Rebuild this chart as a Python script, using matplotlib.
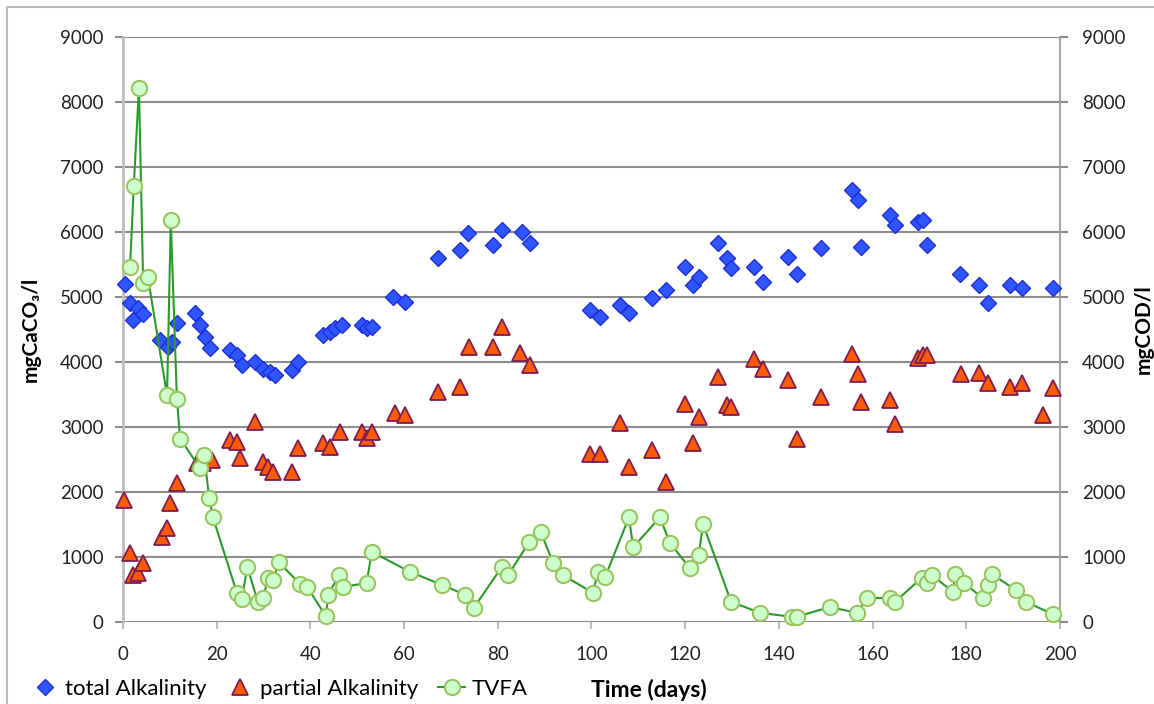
"""Alkalinity and TVFA over time."""
import matplotlib
matplotlib.use('Agg')
import matplotlib.pyplot as plt
from matplotlib.patches import Rectangle

plt.rcParams['font.family'] = ['Lato', 'DejaVu Sans']

# total alkalinity (mgCaCO3/l)
total_days = [0.4, 1.5, 2.1, 3.2, 4.3, 7.9, 9.6, 10.5, 11.5, 15.4, 16.4, 17.5, 18.6,
              22.8, 24.3, 25.4, 28.2, 29.9, 31.4, 32.4, 36, 37.4, 42.7, 44.2, 45.3,
              46.7, 51, 52, 53.1, 57.6, 60.2, 67.2, 71.9, 73.6, 79, 80.9, 85.2, 86.9,
              99.7, 101.8, 106.1, 108, 112.9, 115.9, 120, 121.7, 122.9, 127, 128.9,
              129.8, 134.7, 136.6, 141.9, 143.8, 149, 155.6, 156.9, 157.5, 163.7,
              164.8, 169.7, 170.8, 171.6, 178.7, 182.7, 184.6, 189.3, 191.9, 198.5]
total_alk = [5200, 4910, 4650, 4830, 4740, 4340, 4230, 4310, 4600, 4750, 4570, 4390, 4210,
             4180, 4110, 3950, 4000, 3900, 3850, 3800, 3880, 4000, 4420, 4460, 4520,
             4570, 4570, 4520, 4540, 5000, 4920, 5600, 5720, 5980, 5800, 6030, 6000, 5830,
             4800, 4690, 4880, 4750, 4980, 5110, 5460, 5180, 5310, 5830, 5600,
             5450, 5460, 5230, 5620, 5350, 5750, 6650, 6490, 5770, 6260,
             6110, 6150, 6180, 5800, 5350, 5180, 4910, 5180, 5140, 5140]

# partial alkalinity (mgCaCO3/l)
partial_days = [0.2, 1.5, 2.2, 3.3, 4.3, 8.3, 9.4, 10, 11.5, 15.8, 17, 19, 22.8, 24.3, 25,
                28.2, 29.9, 31, 32, 36, 37.4, 42.7, 44.2, 46.3, 51, 52, 53.1, 58, 60.2,
                67.2, 71.9, 73.8, 78.9, 80.9, 84.7, 86.9, 99.7, 101.8, 106.1, 108, 112.9,
                115.9, 120, 121.7, 122.9, 127, 128.9, 129.8, 134.7, 136.6, 141.9, 143.8,
                149, 155.6, 156.9, 157.5, 163.7, 164.8, 169.7, 170.8, 171.6, 178.9, 182.7,
                184.6, 189.3, 191.9, 196.4, 198.5]
partial_alk = [1880, 1060, 720, 750, 910, 1310, 1440, 1830, 2140, 2450, 2450, 2490, 2800, 2770, 2520,
               3080, 2460, 2390, 2310, 2310, 2670, 2750, 2690, 2920, 2920, 2830, 2920, 3210, 3180,
               3540, 3620, 4230, 4230, 4540, 4140, 3950, 2580, 2580, 3060, 2380, 2650,
               2150, 3350, 2750, 3150, 3770, 3340, 3310, 4050, 3900, 3720, 2820,
               3460, 4120, 3820, 3390, 3420, 3050, 4060, 4110, 4110, 3820, 3830,
               3680, 3620, 3680, 3180, 3600]

# TVFA (mgCOD/l)
tvfa_days = [1.5, 2.3, 3.4, 4.3, 5.3, 9.4, 10.2, 11.5, 12.2, 16.4, 17.3, 18.4, 19.2, 24.3,
             25.4, 26.5, 28.8, 29.9, 31, 32, 33.3, 37.8, 39.3, 43.3, 43.8, 46.1, 47, 52,
             53.1, 61.3, 68.1, 73, 74.9, 80.9, 82.2, 86.7, 89.2, 91.8, 93.9, 100.3, 101.4,
             102.9, 108, 108.9, 114.6, 116.8, 121, 122.9, 123.8, 129.8, 136, 142.8, 143.8,
             150.9, 156.7, 158.8, 163.7, 164.8, 170.5, 171.6, 172.7, 177.2, 177.6, 179.5,
             183.5, 184.6, 185.4, 190.6, 192.7, 198.5]
tvfa = [5460, 6710, 8220, 5220, 5310, 3490, 6180, 3430, 2820, 2370, 2570, 1910, 1610, 450,
        350, 850, 310, 370, 680, 650, 920, 580, 540, 90, 420, 720, 540, 600,
        1080, 770, 570, 420, 220, 850, 720, 1230, 1380, 910, 720, 450, 770,
        690, 1610, 1150, 1610, 1210, 830, 1030, 1510, 310, 140, 80, 80,
        230, 140, 370, 370, 310, 680, 600, 720, 460, 740, 600,
        370, 570, 740, 490, 310, 120]

fig = plt.figure(figsize=(11.54, 7.04), dpi=100)
ax = fig.add_axes([0.1066, 0.1165, 0.8119, 0.8309])

ax.plot(total_days, total_alk, linestyle='none', marker='D', markersize=8,
        markerfacecolor='#2f55ff', markeredgecolor='#1f2fd8', markeredgewidth=1,
        label='total Alkalinity', zorder=3, clip_on=False)
ax.plot(partial_days, partial_alk, linestyle='none', marker='^', markersize=11,
        markerfacecolor='#ff5a00', markeredgecolor='#7a1e55', markeredgewidth=1.3,
        label='partial Alkalinity', zorder=4, clip_on=False)
ax.plot(tvfa_days, tvfa, color='#2a9a2a', linewidth=1.5, marker='o', markersize=11,
        markerfacecolor='#ccffcc', markeredgecolor='#9cc462', markeredgewidth=1.5,
        label='TVFA', zorder=5, clip_on=False)

ax.set_xlim(0, 200)
ax.set_ylim(0, 9000)
ax.set_xticks(range(0, 201, 20))
ax.set_yticks(range(0, 9001, 1000))
ax.yaxis.grid(True, color='#8c8c8c', linewidth=1.5)
ax.set_axisbelow(True)

for side in ['top', 'bottom']:
    ax.spines[side].set_visible(False)
ax.spines['left'].set_color('#bdbdbd')
ax.spines['left'].set_linewidth(2)
ax.spines['right'].set_color('#a8a8a8')
ax.spines['right'].set_linewidth(1.5)

ax.tick_params(axis='y', length=6, width=1.5, color='#8c8c8c', labelsize=13.5, pad=8,
               labelcolor='#222222')
ax.tick_params(axis='x', length=5, width=1.5, color='#bdbdbd', labelsize=13.5, pad=12,
               labelcolor='#222222')
ax.set_ylabel('mgCaCO₃/l', fontsize=15, fontweight='bold', labelpad=14)

ax2 = ax.twinx()
ax2.set_ylim(0, 9000)
ax2.set_yticks(range(0, 9001, 1000))
ax2.tick_params(axis='y', length=6, width=1.5, color='#8c8c8c', labelsize=13.5, pad=10,
                labelcolor='#222222')
for side in ['top', 'bottom', 'left', 'right']:
    ax2.spines[side].set_visible(False)
ax2.set_ylabel('mgCOD/l', fontsize=15, fontweight='bold', labelpad=6)

fig.legend(loc='center left', bbox_to_anchor=(0.02, 0.022), ncol=3, frameon=False,
           fontsize=16, handletextpad=0.3, columnspacing=0.9, handlelength=1.2,
           borderaxespad=0)
fig.text(0.562, 0.02, 'Time (days)', fontsize=16.5, fontweight='bold', va='center',
         ha='center')

fig.patches.append(Rectangle((0.006, -0.01), 1.2, 1.0, transform=fig.transFigure,
                             fill=False, edgecolor='#bdbdbd', linewidth=1.5))

fig.savefig('out.png', dpi=100)
plt.close()
